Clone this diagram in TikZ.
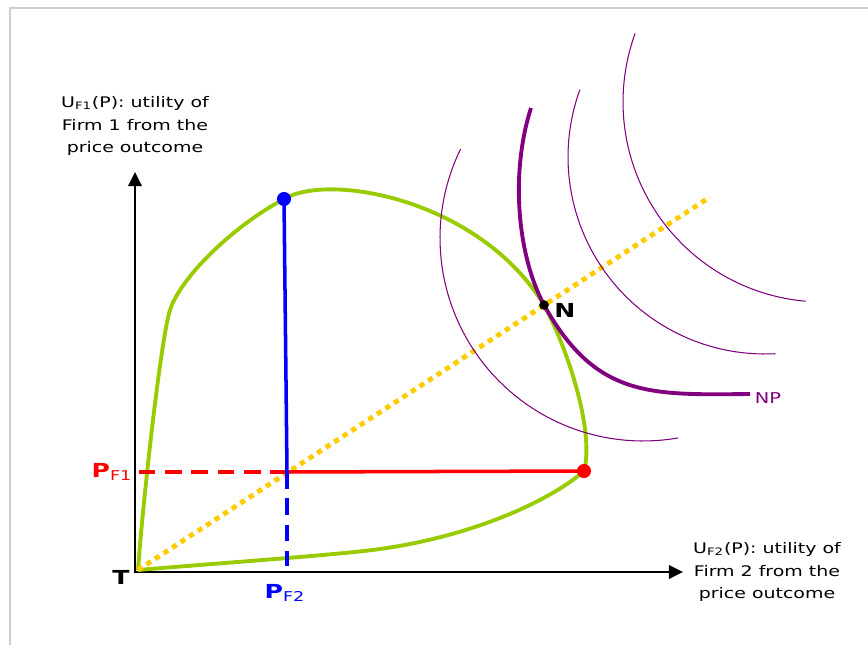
\documentclass[tikz,border=0pt]{standalone}
\usepackage{fontspec}
\setmainfont[FakeStretch=1.3]{DejaVu Sans}
\definecolor{pfgreen}{RGB}{153, 204, 0}
\definecolor{pfgold}{RGB}{255, 204, 0}
\definecolor{pfpurple}{RGB}{128, 0, 128}
\definecolor{pfframe}{RGB}{205, 205, 205}
\usetikzlibrary{arrows.meta, positioning}

\begin{document}
\begin{tikzpicture}[
    x=0.02cm, y=-0.02cm,
    axis/.style={line width=1.7pt, {Triangle[length=8pt, width=7.5pt]}-{Triangle[length=8pt, width=7.5pt]}},
    frontier/.style={pfgreen, line width=2.2pt},
    indiff/.style={pfpurple, line width=0.6pt},
    guide/.style={line width=2pt},
    dashguide/.style={line width=2pt, dash pattern=on 9.5pt off 5.5pt},
    dot/.style={circle, fill, inner sep=0pt, minimum size=8pt},
    axlabel/.style={align=center, font=\fontsize{8.3}{13}\selectfont},
    ptlabel/.style={font=\fontsize{11}{13}\selectfont\bfseries}
]
    \useasboundingbox (0,0) rectangle (868,645);
    \draw[pfframe, line width=1.2pt] (10,645) -- (10,8) -- (868,8);

    % key points
    \coordinate (O) at (135,572);
    \coordinate (T) at (138,570);
    \coordinate (ytip) at (135,172);
    \coordinate (xtip) at (683,572);
    \coordinate (PA) at (284,199);
    \coordinate (PB) at (584,471);
    \coordinate (C) at (287,472);
    \coordinate (N) at (544,305);
    \coordinate (bend) at (170,310);
    \coordinate (low) at (380,549);
    \coordinate (diagend) at (710,197);
    \coordinate (PF2end) at (287,566);

    \draw[axis] (ytip) -- (O) -- (xtip);

    % utility frontier
    \draw[frontier] (T) .. controls (143,500) and (161,338) .. (bend)
        .. controls (180,279) and (230,228) .. (PA)
        .. controls (330,172) and (480,200) .. (N)
        .. controls (566,345) and (595,430) .. (PB)
        .. controls (555,497) and (480,535) .. (low)
        .. controls (337,555) and (220,563) .. (T);

    \draw[pfgold, line width=2.8pt, dash pattern=on 3pt off 2.8pt] (T) -- (diagend);

    % Nash product contours
    \draw[indiff] plot[domain=80:206, samples=60] ({643+203*cos(\x)}, {238+203*sin(\x)});
    \draw[indiff] plot[domain=87:200, samples=60] ({765+197*cos(\x)}, {157+197*sin(\x)});
    \draw[indiff] plot[domain=95:200, samples=60] ({823+200*cos(\x)}, {102+200*sin(\x)});
    \draw[pfpurple, line width=2.2pt] (531,108) .. controls (511,170) and (516,252) .. (N)
        .. controls (596,398) and (650,395) .. (750,394);

    \draw[red, guide] (PB) -- (C);
    \draw[red, dashguide] (C) -- (C -| O);
    \draw[blue, guide] (PA) -- (C);
    \draw[blue, dashguide] (C) -- (PF2end);

    \node[dot, blue] (dotA) at (PA) {};
    \node[dot, red] (dotB) at (PB) {};
    \node[dot, black, minimum size=5.5pt] (dotN) at (N) {};

    \node[axlabel] (ylab) at (135,126)
        {U\textsubscript{F1}(P): utility of\\Firm 1 from the\\price outcome};
    \node[axlabel] (xlab) at (767,572)
        {U\textsubscript{F2}(P): utility of\\Firm 2 from the\\price outcome};
    \node[ptlabel] (Tlab) at (121,577) {T};
    \node[ptlabel] (Nlab) at (565,310) {N};
    \node[pfpurple, font=\fontsize{8.5}{11}\selectfont] (NPlab) at (768,398) {NP};
    \node[ptlabel, red] (PF1lab) at (112,472) {P\textsubscript{\mdseries F1}};
    \node[ptlabel, blue] (PF2lab) at (285,593) {P\textsubscript{\mdseries F2}};
\end{tikzpicture}
\end{document}
